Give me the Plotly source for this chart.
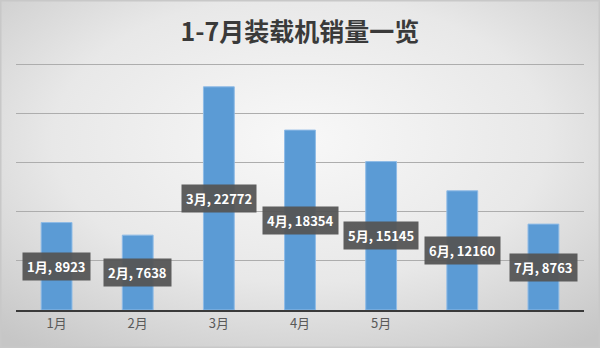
import base64
import plotly.graph_objects as go

months = ["1月", "2月", "3月", "4月", "5月", "6月", "7月"]
sales = [8923, 7638, 22772, 18354, 15145, 12160, 8763]
tick_text = ["1月", "2月", "3月", "4月", "5月", "", ""]
title_text = "1-7月装载机销量一览"

W, H = 600, 348
L, R, T, B = 16, 16, 63, 38
pw, ph = W - L - R, H - T - B

svg = f'''<svg xmlns="http://www.w3.org/2000/svg" width="{W}" height="{H}" viewBox="0 0 {W} {H}" preserveAspectRatio="none">
<defs><radialGradient id="g" cx="50%" cy="40%" r="75%">
<stop offset="0" stop-color="#f8f8f8"/><stop offset="0.55" stop-color="#e8e8e8"/><stop offset="1" stop-color="#c6c6c6"/>
</radialGradient></defs>
<rect width="{W}" height="{H}" fill="url(#g)"/>
<rect x="0.5" y="0.5" width="{W-1}" height="{H-1}" fill="none" stroke="#c8c8c8" stroke-width="2"/>
</svg>'''
src = "data:image/svg+xml;base64," + base64.b64encode(svg.encode()).decode()

fig = go.Figure()
fig.add_trace(go.Bar(
    x=months, y=sales, width=0.38,
    marker=dict(color="#5B9BD5", line=dict(color="#8fbbe6", width=1)),
    hoverinfo="skip",
))

for m, v in zip(months, sales):
    fig.add_annotation(
        x=m, y=v / 2, xref="x", yref="y",
        text=f"<b>{m}, {v}</b>", showarrow=False,
        font=dict(family="Noto Sans CJK SC, Noto Sans", size=13, color="white"),
        bgcolor="rgba(85,85,85,0.95)", borderpad=4,
    )

fig.add_layout_image(dict(
    source=src, xref="paper", yref="paper",
    x=-L / pw, y=1 + T / ph, sizex=W / pw, sizey=H / ph,
    xanchor="left", yanchor="top", sizing="stretch", layer="below",
))

fig.update_layout(
    width=W, height=H,
    margin=dict(l=L, r=R, t=T, b=B),
    paper_bgcolor="#e4e4e4", plot_bgcolor="rgba(0,0,0,0)",
    showlegend=False,
    title=dict(text=f"<b>{title_text}</b>", x=0.5, xref="paper", xanchor="center",
               y=1 - 32 / H, yref="container", yanchor="middle",
               font=dict(family="Noto Sans CJK SC, Noto Sans", size=25, color="#3a3a3a")),
    xaxis=dict(tickvals=months, ticktext=tick_text, showgrid=False, zeroline=False,
               showline=True, linecolor="#3a3a3a", linewidth=2, ticks="",
               tickfont=dict(family="Noto Sans CJK SC, Noto Sans", size=13, color="#595959"),
               range=[-0.5, 6.5]),
    yaxis=dict(range=[0, 25200], tickvals=[5000, 10000, 15000, 20000, 25000], showgrid=True,
               gridcolor="#adadad", gridwidth=1,
               showticklabels=False, zeroline=False, showline=False, ticks=""),
)

fig.write_html("out.html")
